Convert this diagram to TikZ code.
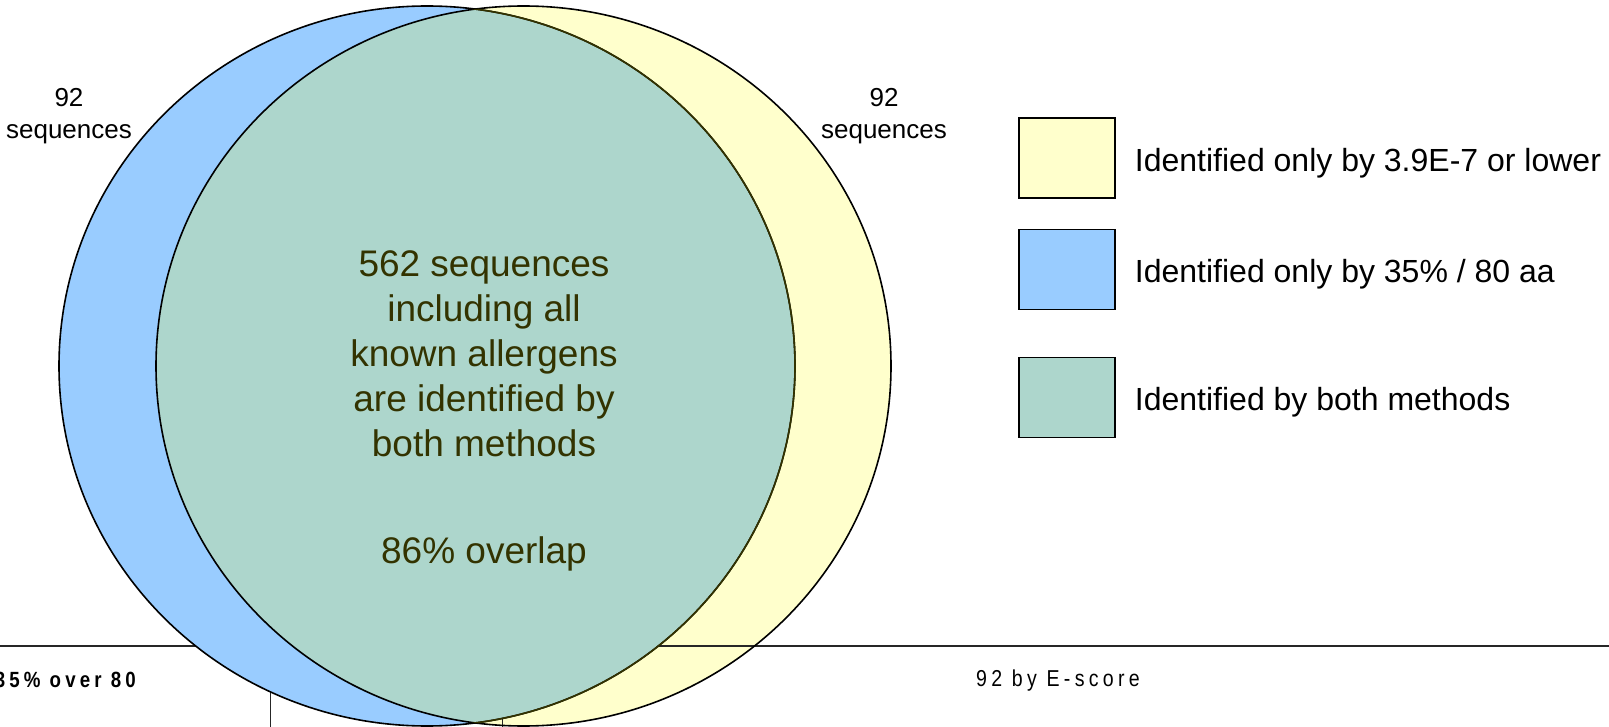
\documentclass[tikz,border=0pt]{standalone}
\usepackage{fontspec}
\setmainfont{Liberation Sans}
\newfontfamily\cellfont[LetterSpace=22]{Liberation Sans}
\usetikzlibrary{positioning}
\definecolor{paleyellow}{RGB}{255,255,204}
\definecolor{skyblue}{RGB}{153,204,255}
\definecolor{seagreen}{RGB}{173,214,204}
\definecolor{olivetext}{RGB}{51,51,0}

\begin{document}
\begin{tikzpicture}[x=1pt,y=-1pt,
  ring/.style={draw=black, line width=1.6pt},
  key/.style={rectangle, draw=black, line width=1.5pt, minimum width=96pt,
              minimum height=80pt, inner sep=0pt},
  keytext/.style={anchor=west, inner sep=0pt, yshift=-5pt, font=\fontsize{32}{38}\selectfont},
  count/.style={align=center, inner sep=0pt, font=\fontsize{26}{32}\selectfont},
  celltext/.style={inner sep=0pt, xscale=0.85, font=\cellfont\fontsize{23}{26}\selectfont},
  node distance=19pt
]
\useasboundingbox (0,0) rectangle (1609,727);
\clip (0,0) rectangle (1609,727);

% table rules behind the sets
\fill[paleyellow] (523.5,366) ellipse [x radius=367.5, y radius=360];
\draw[line width=1.2pt, black!85] (0,646) -- (1609,646);
\draw[line width=1pt, black!85] (270,646) -- (270,727);
\draw[line width=1pt, black!85] (502,646) -- (502,727);
\node[celltext, anchor=east, font=\cellfont\bfseries\fontsize{22}{26}\selectfont] (idcell) at (136,680) {35\% over 80};
\node[celltext] (ecell) at (1058,681) {92 by E-score};

% the two sets and their overlap
\fill[skyblue] (427,366) ellipse [x radius=368, y radius=360];
\begin{scope}
  \clip (427,366) ellipse [x radius=368, y radius=360];
  \fill[seagreen] (523.5,366) ellipse [x radius=367.5, y radius=360];
\end{scope}
\draw[ring] (523.5,366) ellipse [x radius=367.5, y radius=360];
\draw[ring] (427,366) ellipse [x radius=368, y radius=360];
\begin{scope}
  \clip (523.5,366) ellipse [x radius=367.5, y radius=360];
  \draw[line width=1.6pt, olivetext] (427,366) ellipse [x radius=368, y radius=360];
\end{scope}

\node[count] (leftcount) at (69,116) {92\\sequences};
\node[count] (rightcount) at (884,116) {92\\sequences};

\node[olivetext, align=center, font=\fontsize{37}{45}\selectfont] (both) at (484,354)
  {562 sequences\\including all\\known allergens\\are identified by\\both methods};
\node[olivetext, font=\fontsize{37}{45}\selectfont] (overlap) at (484,554) {86\% overlap};

% legend
\node[key, fill=paleyellow] (keyE) at (1067,158) {};
\node[key, fill=skyblue] (keyP) at (1067,269.5) {};
\node[key, fill=seagreen] (keyB) at (1067,397.5) {};
\node[keytext, right=of keyE] (textE) {Identified only by 3.9E-7 or lower};
\node[keytext, right=of keyP] (textP) {Identified only by 35\% / 80 aa};
\node[keytext, right=of keyB] (textB) {Identified by both methods};
\end{tikzpicture}
\end{document}
